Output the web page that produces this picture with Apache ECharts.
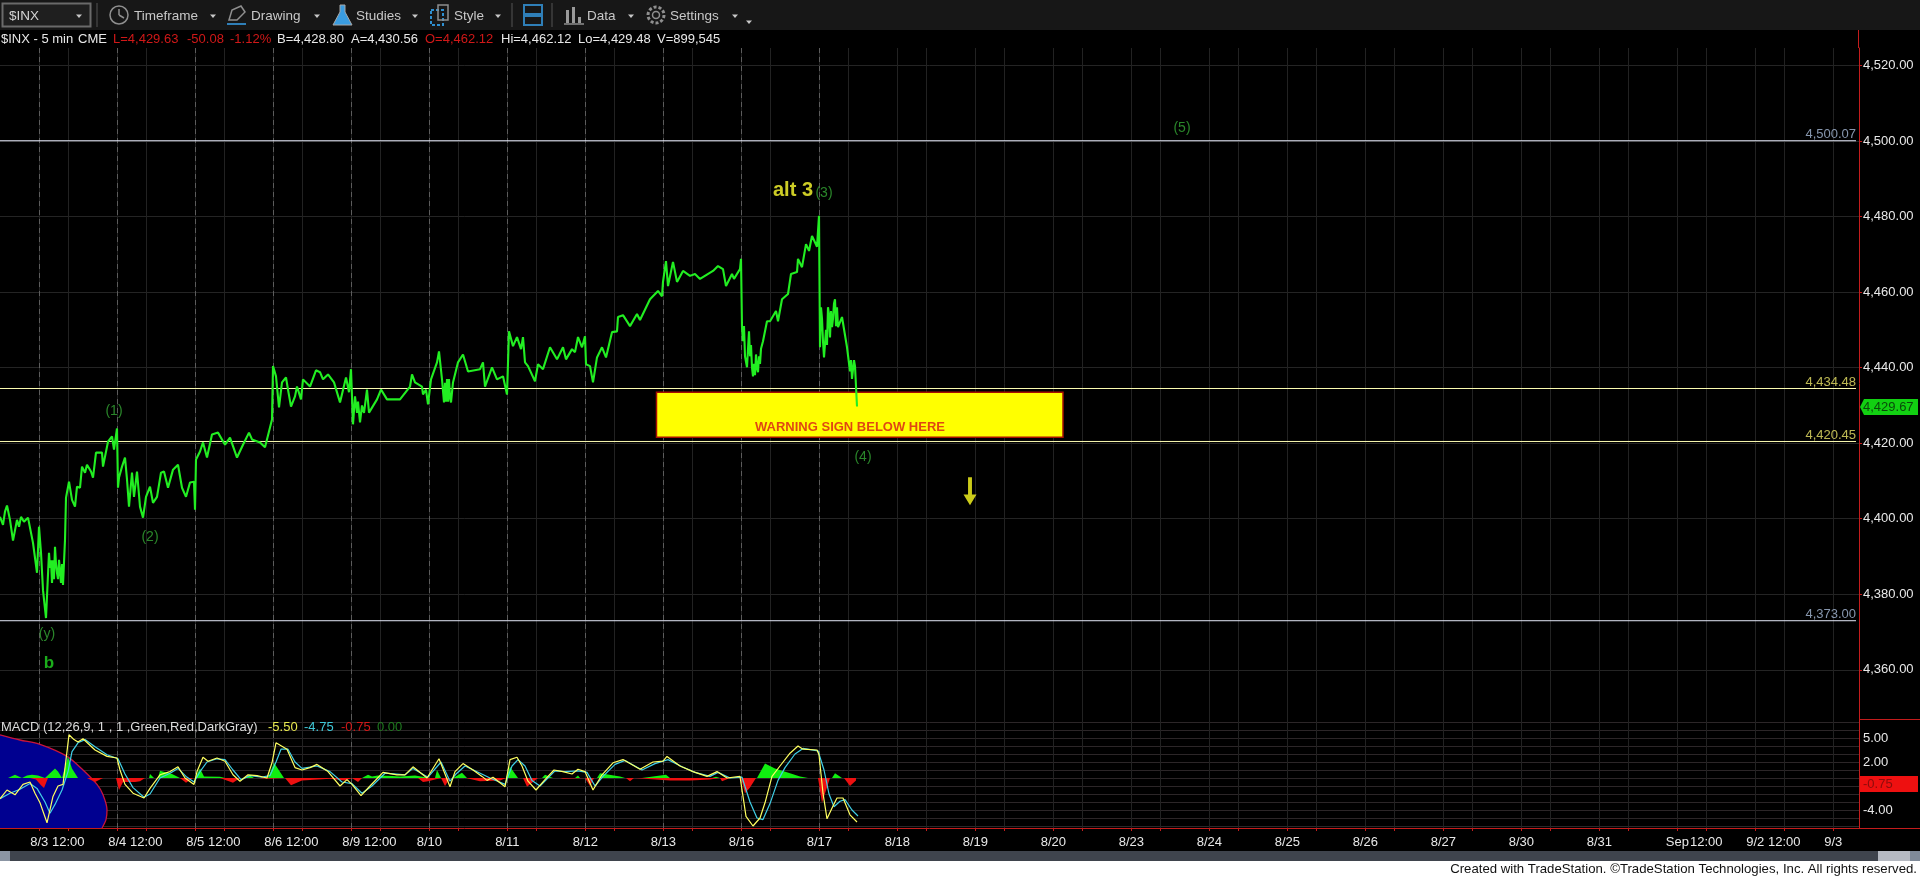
<!DOCTYPE html>
<html><head><meta charset="utf-8"><title>$INX</title>
<style>html,body{margin:0;padding:0;background:#000;overflow:hidden}#c{width:1920px;height:877px}</style>
<script src="https://cdn.jsdelivr.net/npm/echarts@6/dist/echarts.min.js"></script>
</head><body><div id="c"></div>
<script>
const priceBars=[0,3,5,7,10,13,17,19,21,24,28,33,37,39,41,43,46,48,49,52,55,57,59,63,65,66,69,72,75,77,80,82,85,87,91,93,96,102,103,108,112,114,117,118,119,122,125,127,129,132,134,137,140,143,146,150,153,157,161,164,168,173,178,182,186,190,194,195,196,200,203,207,212,218,225,230,237,243,249,252,260,265,269,272,273,276,279,282,286,288,291,295,297,301,303,310,316,320,323,328,334,340,346,349,351,353,355,360,367,369,377,381,387,400,410,412,415,422,423,426,428,431,437,439,442,444,451,453,458,463,468,480,483,485,492,497,503,507,509,513,517,521,523,525,528,535,538,543,550,557,563,566,572,575,578,582,585,586,590,593,597,602,606,612,617,618,623,630,637,640,650,658,662,663,666,668,673,677,683,690,695,700,713,718,723,726,732,734,740,741,742,743,747,749,753,756,758,763,767,770,776,778,782,788,791,797,798,802,806,809,812,817,819,820,821,824,828,832,835,838,842,847,850,853,855,857];
const priceValues=[4400.5,4398.4,4401.9,4403.5,4399.7,4394.2,4399.7,4397.9,4400.5,4399.2,4400.3,4393.6,4385.7,4397.9,4391.0,4381.1,4373.7,4373.4,4391.0,4383.0,4392.6,4385.7,4389.1,4382.5,4394.4,4405.6,4409.8,4405.0,4403.2,4408.5,4408.2,4413.8,4412.2,4414.3,4412.5,4410.9,4417.5,4417.5,4413.8,4420.4,4421.8,4418.3,4423.9,4408.2,4410.9,4413.8,4416.2,4410.4,4403.2,4412.2,4405.8,4412.5,4403.2,4400.3,4405.8,4408.5,4404.2,4405.8,4412.2,4412.5,4408.2,4413.0,4414.3,4408.2,4405.8,4409.6,4409.8,4402.4,4415.7,4417.8,4420.2,4416.2,4422.3,4422.8,4419.6,4421.5,4416.2,4419.6,4422.8,4421.0,4420.2,4418.9,4423.1,4426.3,4440.4,4437.7,4429.5,4436.1,4437.4,4434.2,4429.7,4432.4,4435.0,4431.6,4436.9,4435.0,4439.3,4438.8,4436.9,4438.2,4436.1,4430.8,4437.4,4433.5,4439.6,4425.0,4432.4,4425.5,4434.2,4428.1,4431.6,4434.2,4431.6,4431.6,4435.0,4438.2,4436.1,4435.0,4432.9,4434.2,4430.3,4436.9,4441.4,4444.3,4436.9,4430.8,4430.8,4436.1,4441.4,4443.5,4439.0,4439.6,4441.4,4435.0,4440.1,4436.9,4437.7,4432.9,4449.6,4445.7,4448.1,4444.9,4448.1,4441.4,4440.4,4436.4,4440.9,4439.6,4445.4,4442.2,4445.4,4442.2,4444.9,4444.1,4448.1,4445.4,4448.3,4440.9,4440.4,4436.1,4442.7,4445.4,4442.7,4449.4,4449.6,4453.4,4453.9,4451.0,4454.2,4452.6,4458.1,4460.3,4458.9,4462.7,4468.2,4461.6,4468.0,4462.7,4465.6,4464.3,4464.8,4463.5,4465.6,4466.9,4466.1,4461.6,4464.8,4463.5,4466.1,4468.8,4450.7,4447.0,4440.1,4449.6,4437.7,4443.5,4438.8,4447.0,4452.3,4452.3,4455.0,4452.3,4458.1,4459.5,4464.8,4465.3,4468.8,4466.6,4472.7,4470.9,4474.9,4472.0,4480.2,4445.4,4456.0,4442.7,4456.0,4450.7,4458.1,4450.7,4453.4,4445.4,4439.0,4436.9,4440.4,4429.7];
const priceDetailBars=[50,51,53,54,56,58,60,61,62,357,358,362,364,445,446,447,448,449,450,744,745,750,751,752,754,755,757,759,760,761,822,823,826,827,829,830,831,833,834,836,837,851,852,854];
const priceDetailValues=[4387,4389,4389,4384,4388,4384,4386,4383,4388,4428,4431,4430,4428,4436,4431,4437,4431,4437,4432,4451,4443,4443,4446,4440,4441,4438,4440,4443,4441,4445,4453,4447,4450,4446,4454,4448,4455,4453,4457,4451,4456,4442,4437,4442];

const macdBars=[0,7,15,23,30,35,40,47,53,58,63,66,69,74,78,83,95,107,117,120,125,133,144,150,160,170,178,185,194,197,203,208,217,225,233,240,248,257,267,272,276,287,295,302,310,317,328,340,347,352,361,370,383,397,405,413,427,439,450,455,463,473,482,487,493,505,510,517,522,528,536,545,554,563,572,578,585,593,602,613,623,640,653,663,667,680,693,707,717,727,740,746,753,760,765,772,780,790,798,803,817,819,823,827,833,837,843,850,857];
const macdValues=[-2.6,-1.5,-2.1,-0.8,-0.5,-1.9,-3.1,-5.6,-2.3,-1.0,-0.8,2.3,5.4,4.8,4.5,4.9,3.5,2.7,2.5,1.0,-0.8,-1.9,-2.5,-1.3,0.4,0.8,1.4,0,-0.8,0.8,2.6,2.1,2.5,2.1,0.4,-0.4,0.4,0.3,0,1.9,4.4,3.6,1.3,1.0,1.3,1.7,0.8,-1.0,-0.2,-0.8,-2.2,-1.0,0.7,0.4,0.4,1.4,0,2.4,-1.1,0.8,1.8,1.0,0.2,-0.3,0.1,-1.1,2.3,2.6,1.5,-0.4,-1.5,-0.2,1.0,0.8,0.5,1.1,0.8,-1.5,0.4,1.9,2.3,1.1,2.0,2.1,2.7,1.5,0.8,0.2,0.8,0,0.2,-4.8,-6.0,-5.0,-3.1,0.2,1.5,3.1,4.0,3.6,3.5,2.9,-1.9,-5.1,-3.5,-2.5,-2.5,-4.6,-5.5];
const signalBars=[0,10,20,30,37,45,50,55,62,68,72,78,85,95,107,118,125,133,144,150,160,170,178,186,194,200,207,217,225,233,241,250,262,270,276,281,288,295,302,317,330,342,352,362,372,385,405,413,428,441,450,456,465,475,490,505,512,518,525,532,540,555,565,578,587,595,603,615,625,642,655,668,682,695,710,718,730,742,750,757,763,770,778,785,795,803,818,824,829,834,840,845,852,858];
const signalValues=[-2.6,-1.9,-1.4,-0.7,-1.3,-3.0,-4.4,-3.3,-1.5,0.8,3.3,4.4,4.8,3.9,2.9,2.4,0.5,-1.2,-2.4,-2.0,0,0.6,1.2,0.2,-0.5,0.8,2.0,2.4,2.3,1.0,-0.2,0.3,0.1,0.3,2.0,3.6,3.6,2.0,1.2,1.5,0.8,-0.5,-0.7,-1.9,-1.0,0.6,0.4,1.2,0.1,2.0,-0.4,0.5,1.5,0.9,0,-0.8,1.5,2.3,1.5,-0.3,-1.0,0.9,0.8,0.9,0.7,-1.0,0.2,1.7,2.2,1.0,1.8,2.3,1.4,0.7,0.2,0.7,0,0.1,-3,-5,-5.2,-3.2,-0.3,1.3,3.0,3.7,3.4,1,-2,-3.6,-2.9,-2.7,-4,-4.75];
const histGreenBars=[0,2,5,5,8,15,22,22,27,32,38,45,50,55,58,62,63,68,72,78,78,80,82,149,150,154,158,160,172,180,195,200,204,220,225,244,250,254,268,274,284,362,368,372,378,392,400,415,430,435,437,441,453,462,467,506,510,518,542,545,553,575,578,580,597,600,620,625,642,666,670,712,716,720,757,765,775,790,800,808,832,835,842];
const histGreenValues=[0,0.15,0,0,0,0.4,0,0.1,0.3,0.4,0.3,0,0.6,1.2,0.8,0,0,2.7,1.2,0,0,0.2,0,0,0.5,0,0,0.9,0.5,0,0,1.2,0.2,0.15,0,0,0.3,0,0,1.9,0,0,0.4,0.2,0.3,0.25,0.2,0.3,0,0,1.0,0,0,0.65,0,0,1.4,0,0,0.4,0,0,0.3,0,0,0.6,0.2,0,0,0.4,0,0,0.15,0,0,1.8,1.2,0.6,0.2,0,0,0.6,0];
const histRedBars=[30,36,41,44,48,87,95,103,116,119,123,135,140,145,180,186,193,220,233,240,258,268,285,291,302,330,345,352,358,362,418,423,428,441,445,450,466,480,500,506,523,527,538,560,563,585,590,594,626,630,634,670,690,710,720,722,730,741,745,750,756,803,818,822,830,844,850,856];
const histRedValues=[0,-0.2,-0.9,-1.25,0,0,-0.5,0,0,-1.5,-0.5,-0.5,-0.4,0,0,-0.6,0,0,-0.6,0,0,-0.1,0,-0.9,-0.3,-0.1,-0.3,0,-0.5,0,0,-0.5,-0.4,0,-1.0,0,0,-0.4,-0.3,0,0,-1.1,0,0,-0.1,0,-1.0,0,0,-0.4,0,-0.3,-0.3,-0.2,0,-0.4,0,0,-1.9,-1.2,0,0,0,-3.1,0,0,-1.0,-0.3];
const ellipseBars=[0,20,40,67,83,97,103,107,106,102];
const ellipseValues=[5.4,4.75,4.2,2.7,1.0,-0.8,-2.1,-4,-5.2,-6.25];

const dayTickBars=[39.3,117.3,195.3,273.3,351.3,429.3,507.3,585.3,663.3,741.3,819.3,897.3,975.3,1053.3,1131.3,1209.3,1287.3,1365.3,1443.3,1521.3,1599.3,1677.3,1755.3,1833.3];
const dayTickLabels=['8/3','8/4','8/5','8/6','8/9','8/10','8/11','8/12','8/13','8/16','8/17','8/18','8/19','8/20','8/23','8/24','8/25','8/26','8/27','8/30','8/31','Sep','9/2','9/3'];
const noonTickBars=[68.3,146.3,224.3,302.3,380.3,458.3,536.3,614.3,692.3,770.3,848.3,926.3,1004.3,1082.3,1160.3,1238.3,1316.3,1394.3,1472.3,1550.3,1628.3,1706.3,1784.3];
const noonLabelBars=[68.3,146.3,224.3,302.3,380.3,1706.3,1784.3];
const sessionBreakBars=[39.3,117.3,195.3,273.3,351.3,429.3,507.3,585.3,663.3,741.3,819.3];
const priceTicks=[4360,4380,4400,4420,4440,4460,4480,4500,4520];
const macdGridValues=[-6,-5,-4,-3,-2,-1,0,1,2,3,4,5,6,7];
const macdLabelValues=[5,2,-4];
const whiteLevels=[4500.07,4373.00];
const yellowLevels=[4434.48,4420.45];
const waveBars=[114,150,47,824,863,1182];
const wavePrices=[4428.6,4395.2,4369.5,4486.3,4416.4,4503.4];
const waveTexts=['(1)','(2)','(y)','(3)','(4)','(5)'];
const warningZone=[[656.5,4433.5],[1063,4421.6]];
const warningPos=[850,4424.3];
const warningText='WARNING SIGN BELOW HERE';
const arrowPos=[970,4407.3];
const bPos=[49,4361.6];
const alt3Pos=[793,4486.8];
const levelEndBar=1856;

const zip=(a,b)=>a.map((v,i)=>[v,b[i]]);
const F='"Liberation Sans",Arial,sans-serif';
const red='#c41c1c';
const fmt=v=>v.toLocaleString('en-US',{minimumFractionDigits:2,maximumFractionDigits:2});
const allTicks=dayTickBars.concat(noonTickBars).sort((a,b)=>a-b);
const allLabelBars=dayTickBars.concat(noonLabelBars).sort((a,b)=>a-b);
const xLabel=v=>{const i=dayTickBars.findIndex(d=>Math.abs(d-v)<0.5);return i>=0?dayTickLabels[i]:'12:00';};
const priceSeries=zip(priceBars,priceValues).concat(zip(priceDetailBars,priceDetailValues)).sort((a,b)=>a[0]-b[0]);

const T=(text,x,y,fill,size,extra)=>({type:'text',z:100,style:Object.assign({text:text,x:x,y:y,fill:fill,font:(size||13)+'px '+F,verticalAlign:'middle',align:'left'},extra||{})});
const R=(x,y,w,h,fill,extra)=>({type:'rect',z:99,shape:{x:x,y:y,width:w,height:h},style:Object.assign({fill:fill},extra||{})});
const arrow=(x,y)=>({type:'polygon',z:100,shape:{points:[[x-3,y-1.5],[x+3,y-1.5],[x,y+2]]},style:{fill:'#c8c8c8'}});
const gs={fill:'none',stroke:'#8f8f8f',lineWidth:1.5};
const redLine=(x1,y1,x2,y2)=>({type:'line',z:99,shape:{x1:x1,y1:y1,x2:x2,y2:y2},style:{stroke:red,lineWidth:1}});
const toolbar=[
 R(0,0,1920,30,'#171717'),
 R(2.5,3.5,88,23,'#1f1f1f',{stroke:'#6a6a6a',lineWidth:2}),
 T('$INX',9,16,'#d4d4d4',13.5),arrow(79,16),
 {type:'line',z:100,shape:{x1:97,y1:3,x2:97,y2:27},style:{stroke:'#555'}},
 {type:'circle',z:100,shape:{cx:119,cy:15,r:9},style:gs},
 {type:'line',z:100,shape:{x1:119,y1:15,x2:119,y2:9},style:gs},{type:'line',z:100,shape:{x1:119,y1:15,x2:124,y2:18},style:gs},
 T('Timeframe',134,16,'#c8c8c8',13.5),arrow(213,16),
 {type:'polygon',z:100,shape:{points:[[229,20],[232,10],[241,6],[245,12],[237,20]]},style:gs},
 {type:'line',z:100,shape:{x1:227,y1:24,x2:246,y2:24},style:{stroke:'#2f7fb8',lineWidth:2}},
 T('Drawing',251,16,'#c8c8c8',13.5),arrow(317,16),
 {type:'polygon',z:100,shape:{points:[[340,5],[345,5],[345,12],[352,25],[333,25],[340,12]]},style:{fill:'#3a9ce0',stroke:'#a8a8a8',lineWidth:1}},
 T('Studies',356,16,'#c8c8c8',13.5),arrow(415,16),
 R(431,10,12,15,'none',{stroke:'#2f8fd0',lineWidth:2,lineDash:[3,2]}),R(438,5,10,15,'none',{stroke:'#8f8f8f',lineWidth:1.5}),
 T('Style',454,16,'#c8c8c8',13.5),arrow(498,16),
 {type:'line',z:100,shape:{x1:512,y1:3,x2:512,y2:27},style:{stroke:'#555'}},
 R(524,5,18,9,'none',{stroke:'#2f7fb8',lineWidth:2}),R(524,16,18,9,'none',{stroke:'#2f7fb8',lineWidth:2}),
 {type:'line',z:100,shape:{x1:552,y1:3,x2:552,y2:27},style:{stroke:'#555'}},
 R(566,10,3,13,'#9a9a9a'),R(572,7,3,16,'#9a9a9a'),R(578,17,3,6,'#9a9a9a'),{type:'line',z:100,shape:{x1:564,y1:24,x2:584,y2:24},style:gs},
 T('Data',587,16,'#c8c8c8',13.5),arrow(631,16),
 {type:'circle',z:100,shape:{cx:656,cy:15,r:8},style:{fill:'none',stroke:'#8f8f8f',lineWidth:3,lineDash:[3,2]}},{type:'circle',z:100,shape:{cx:656,cy:15,r:3.5},style:gs},
 T('Settings',670,16,'#c8c8c8',13.5),arrow(735,16),arrow(749,22),
 T('$INX - 5 min',1,39,'#e8e8e8'),T('CME',78,39,'#e8e8e8'),
 T('L=4,429.63',113,39,'#d01818'),T('-50.08',187,39,'#d01818'),T('-1.12%',230,39,'#d01818'),
 T('B=4,428.80',277,39,'#e8e8e8'),T('A=4,430.56',351,39,'#e8e8e8'),T('O=4,462.12',425,39,'#d01818'),
 T('Hi=4,462.12',501,39,'#e8e8e8'),T('Lo=4,429.48',578,39,'#e8e8e8'),T('V=899,545',657,39,'#e8e8e8'),
 T('MACD (12,26,9, 1 , 1 ,Green,Red,DarkGray)',1,727,'#dcdcdc'),
 T('-5.50',268,727,'#e8e850'),T('-4.75',304,727,'#40c8d8'),T('-0.75',341,727,'#d01818'),T('0.00',377,727,'#1f7a1f'),
 redLine(1858.5,30,1858.5,48),redLine(1859,719.5,1920,719.5),redLine(1859,828.5,1920,828.5),
 {type:'polygon',z:100,shape:{points:[[1860,407],[1864,399],[1918,399],[1918,415],[1864,415]]},style:{fill:'#12d012'}},
 T('4,429.67',1863,407,'#0a4a0a'),
 R(1860,776,58,16,'#ee1010'),T('-0.75',1863,784,'#8a0c0c'),
 R(0,851,1920,10,'#3f444d'),R(0,851,10,10,'#8b95a3'),R(1878,851,32,10,'#b6bac2'),R(1910,851,10,10,'#7f8a99'),
 R(0,861,1920,16,'#ffffff'),
 T('Created with TradeStation. ©TradeStation Technologies, Inc. All rights reserved.',1917,869.5,'#111',13.2,{align:'right'})
];
const levelLabel=(v,color)=>({value:[levelEndBar,v],label:{show:true,formatter:fmt(v),color:color,fontFamily:'Liberation Sans',fontSize:13,position:'insideBottomRight',align:'right',verticalAlign:'bottom',offset:[5,5]}});
const waveLabel=(pos,text,color,size,weight)=>({value:pos,label:{show:true,position:'inside',formatter:text,color:color,fontFamily:'Liberation Sans',fontSize:size,fontWeight:weight||'normal'}});

const option={
 backgroundColor:'#000',animation:false,
 graphic:{elements:toolbar},
 grid:[{left:0,top:48,width:1859,height:671,containLabel:false},{left:0,top:719,width:1859,height:109,containLabel:false}],
 xAxis:[
  {gridIndex:0,type:'value',min:0,max:1859,position:'bottom',
   axisLine:{show:false},axisLabel:{show:false},
   axisTick:{show:false,customValues:allTicks},splitLine:{show:true,lineStyle:{color:'#222222',width:1}}},
  {gridIndex:1,type:'value',min:0,max:1859,position:'bottom',
   axisLine:{show:true,onZero:false,lineStyle:{color:red,width:1}},
   axisTick:{show:true,length:3,customValues:allTicks,lineStyle:{color:red}},
   axisLabel:{show:true,customValues:allLabelBars,formatter:xLabel,color:'#e8e8e8',fontFamily:'Liberation Sans',fontSize:13,margin:8,hideOverlap:false,showMinLabel:true,showMaxLabel:true},
   splitLine:{show:true,lineStyle:{color:'#222222',width:1}}}
 ],
 yAxis:[
  {gridIndex:0,type:'value',min:4346.98,max:4524.63,position:'right',
   axisLine:{show:true,onZero:false,lineStyle:{color:red,width:1}},
   axisTick:{show:true,length:3,customValues:priceTicks,lineStyle:{color:red}},
   axisLabel:{show:true,customValues:priceTicks,formatter:fmt,color:'#e8e8e8',fontFamily:'Liberation Sans',fontSize:13,margin:4},
   splitLine:{show:true,lineStyle:{color:'#242424',width:1}}},
  {gridIndex:1,type:'value',min:-6.25,max:7.375,position:'right',
   axisLine:{show:true,onZero:false,lineStyle:{color:red,width:1}},
   axisTick:{show:false,customValues:macdGridValues},
   axisLabel:{show:true,customValues:macdLabelValues,formatter:v=>v.toFixed(2),color:'#e8e8e8',fontFamily:'Liberation Sans',fontSize:13,margin:4},
   splitLine:{show:true,lineStyle:{color:'#2c2628',width:1}}}
 ],
 series:[
  {name:'priceBreaks',type:'line',xAxisIndex:0,yAxisIndex:0,data:[],z:2,silent:true,
   markLine:{z:1,silent:true,symbol:'none',label:{show:false},lineStyle:{color:'#5c5c5c',type:[5,4],width:1},data:sessionBreakBars.map(b=>({xAxis:b}))}},
  {name:'zone',type:'line',xAxisIndex:0,yAxisIndex:0,data:[],z:3,silent:true,
   markArea:{z:3,silent:true,itemStyle:{color:'#ffff00',borderColor:'#a81000',borderWidth:1.5},data:[[{coord:warningZone[0]},{coord:warningZone[1]}]]}},
  {name:'macdBreaks',type:'line',xAxisIndex:1,yAxisIndex:1,data:[],z:3,silent:true,
   markLine:{z:1,silent:true,symbol:'none',label:{show:false},lineStyle:{color:'#5c5c5c',type:[5,4],width:1},data:sessionBreakBars.map(b=>({xAxis:b}))}},
  {name:'levelsW1',type:'line',xAxisIndex:0,yAxisIndex:0,z:4,symbol:'none',silent:true,lineStyle:{color:'#e4e8f8',width:1},data:[[0,whiteLevels[0]],[levelEndBar,whiteLevels[0]]]},
  {name:'levelsW2',type:'line',xAxisIndex:0,yAxisIndex:0,z:4,symbol:'none',silent:true,lineStyle:{color:'#e4e8f8',width:1},data:[[0,whiteLevels[1]],[levelEndBar,whiteLevels[1]]]},
  {name:'levelsY1',type:'line',xAxisIndex:0,yAxisIndex:0,z:4,symbol:'none',silent:true,lineStyle:{color:'#fafab0',width:1},data:[[0,yellowLevels[0]],[levelEndBar,yellowLevels[0]]]},
  {name:'levelsY2',type:'line',xAxisIndex:0,yAxisIndex:0,z:4,symbol:'none',silent:true,lineStyle:{color:'#fafab0',width:1},data:[[0,yellowLevels[1]],[levelEndBar,yellowLevels[1]]]},
  {name:'levelLabels',type:'scatter',xAxisIndex:0,yAxisIndex:0,z:6,symbolSize:0,silent:true,
   data:whiteLevels.map(v=>levelLabel(v,'#a8bcd8')).concat(yellowLevels.map(v=>levelLabel(v,'#ece668')))},
  {name:'$INX',type:'line',xAxisIndex:0,yAxisIndex:0,z:5,symbol:'none',silent:true,lineStyle:{color:'#22ee22',width:2.1},data:priceSeries},
  {name:'waves',type:'scatter',xAxisIndex:0,yAxisIndex:0,z:7,symbolSize:0,silent:true,
   data:waveBars.map((b,i)=>waveLabel([b,wavePrices[i]],waveTexts[i],'#35a835',14))
    .concat([waveLabel(bPos,'b','#22d822',17,'bold'),waveLabel(alt3Pos,'alt 3','#ffff30',20,'bold'),waveLabel(warningPos,warningText,'#d81818',13,'bold')])},
  {name:'arrow',type:'scatter',xAxisIndex:0,yAxisIndex:0,z:7,silent:true,symbol:'path://M35 0H65V62H100L50 100L0 62H35Z',symbolSize:[13,28],itemStyle:{color:'#ffff20'},data:[arrowPos]},
  {name:'ellipse',type:'line',xAxisIndex:1,yAxisIndex:1,z:3,symbol:'none',silent:true,smooth:0.3,lineStyle:{color:'#c8143c',width:1.3},areaStyle:{color:'#000090',opacity:1,origin:'start'},data:zip(ellipseBars,ellipseValues)},
  {name:'histGreen',type:'line',xAxisIndex:1,yAxisIndex:1,z:4,symbol:'none',silent:true,lineStyle:{width:0},areaStyle:{color:'#10ee10',opacity:1,origin:0},data:zip(histGreenBars,histGreenValues)},
  {name:'histRed',type:'line',xAxisIndex:1,yAxisIndex:1,z:4,symbol:'none',silent:true,lineStyle:{width:0},areaStyle:{color:'#ee1010',opacity:1,origin:0},data:zip(histRedBars,histRedValues)},
  {name:'Signal',type:'line',xAxisIndex:1,yAxisIndex:1,z:5,symbol:'none',silent:true,lineStyle:{color:'#40d0e8',width:1.2},data:zip(signalBars,signalValues)},
  {name:'MACD',type:'line',xAxisIndex:1,yAxisIndex:1,z:6,symbol:'none',silent:true,lineStyle:{color:'#ffff60',width:1.2},data:zip(macdBars,macdValues)}
 ]
};
const chart=echarts.init(document.getElementById('c'),null,{renderer:'canvas',width:1920,height:877});
chart.setOption(option);
</script></body></html>
